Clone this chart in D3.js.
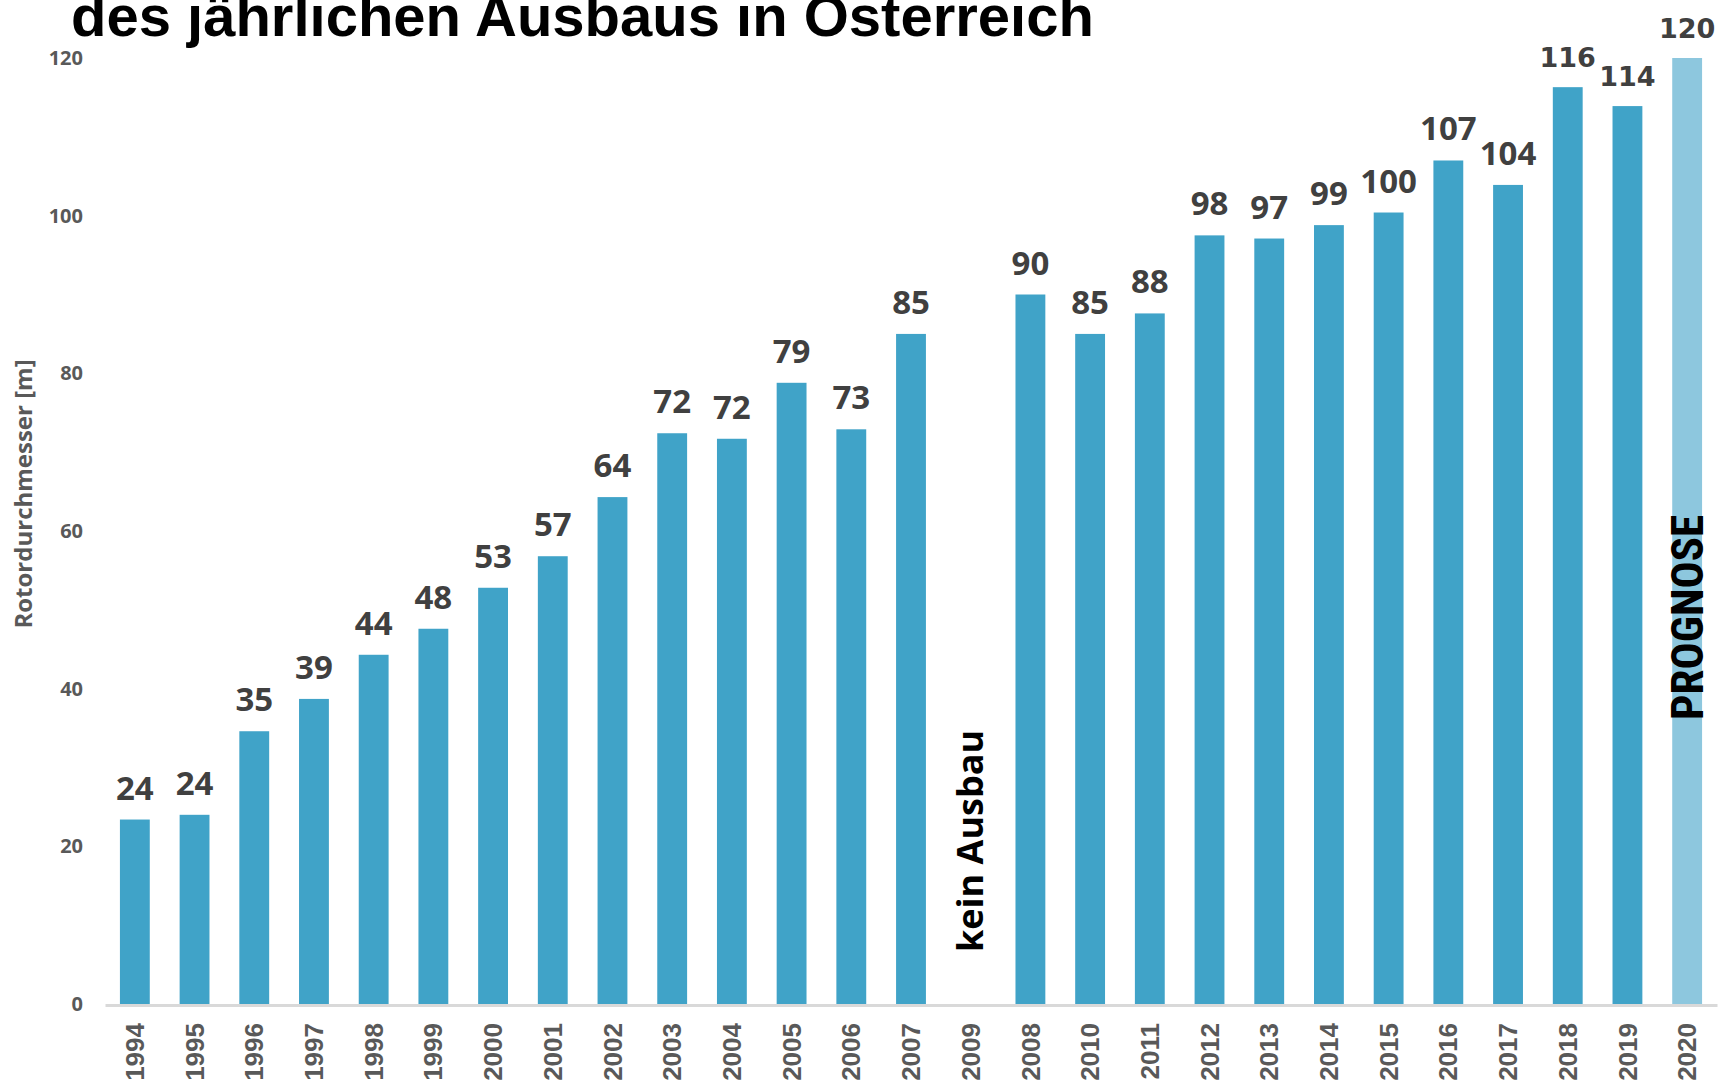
<!DOCTYPE html>
<html>
<head>
<meta charset="utf-8">
<script src="https://cdn.jsdelivr.net/npm/d3@7"></script>
<style>
body{margin:0;background:#fff;}
svg{display:block;}
</style>
</head>
<body>
<svg id="chart" width="1720" height="1083"></svg>
<script>
// Rotordurchmesser je Ausbaujahr
var years = ["1994","1995","1996","1997","1998","1999","2000","2001","2002","2003","2004","2005","2006","2007","2009","2008","2010","2011","2012","2013","2014","2015","2016","2017","2018","2019","2020"];
var values = [23.4,24,34.6,38.7,44.3,47.6,52.8,56.8,64.3,72.4,71.7,78.8,72.9,85,null,90,85,87.6,97.5,97.1,98.8,100.4,107,103.9,116.3,113.9,120];
var labels = ["24","24","35","39","44","48","53","57","64","72","72","79","73","85","","90","85","88","98","97","99","100","107","104","116","114","120"];
var yTicks = [0,20,40,60,80,100,120];
var forecastYear = "2020";
var noBuildYear = "2009";

var svg = d3.select("#chart");

var x = d3.scaleBand()
	.domain(years)
	.range([105,1717])
	.paddingInner(0.5)
	.paddingOuter(0.25);

var y = d3.scaleLinear()
	.domain([0,120])
	.range([1004,58]);

// titel (oben abgeschnitten wie im original)
svg.append("text")
	.attr("x",71)
	.attr("y",36)
	.style("font-family","'Liberation Sans', Arial, sans-serif")
	.style("font-weight","bold")
	.style("font-size","58px")
	.style("fill","#000")
	.text("des jährlichen Ausbaus in Österreich");

// y achse
var yAxis = svg.append("g")
	.attr("transform","translate(105,0)")
	.call(d3.axisLeft(y).tickValues(yTicks).tickSize(0).tickPadding(22));
yAxis.select(".domain").remove();
yAxis.selectAll("text")
	.style("font-family","'Open Sans', sans-serif")
	.style("font-weight","bold")
	.style("font-size","20px")
	.style("fill","#595959");

svg.append("text")
	.attr("transform","translate(24,494) rotate(-90)")
	.attr("text-anchor","middle")
	.attr("dy","0.35em")
	.style("font-family","'Open Sans', sans-serif")
	.style("font-weight","bold")
	.style("font-size","24px")
	.style("fill","#595959")
	.text("Rotordurchmesser [m]");

// balken
var data = years.map(function(d,i){ return {year: d, value: values[i], label: labels[i]}; });
var withBar = data.filter(function(d){ return d.value != null; });

svg.selectAll(".bar")
	.data(withBar)
	.enter().append("rect")
	.attr("class","bar")
	.attr("x",function(d){ return x(d.year); })
	.attr("width",x.bandwidth())
	.attr("y",function(d){ return y(d.value); })
	.attr("height",function(d){ return y(0) - y(d.value); })
	.attr("fill",function(d){ return d.year == forecastYear ? "#8DC7DE" : "#40A3C8"; });

// x achse
var xAxis = svg.append("g")
	.attr("transform","translate(0,1005)")
	.call(d3.axisBottom(x).tickSize(0));
xAxis.select(".domain")
	.attr("stroke","#D9D9D9")
	.attr("stroke-width",3);
xAxis.selectAll("text")
	.attr("transform","rotate(-90)")
	.attr("text-anchor","end")
	.attr("x",-18)
	.attr("y",0)
	.attr("dy","0.35em")
	.style("font-family","'Liberation Sans', Arial, sans-serif")
	.style("font-weight","bold")
	.style("font-size","26px")
	.style("fill","#595959");

// werte
var lastThree = years.slice(-3);
svg.selectAll(".val")
	.data(withBar)
	.enter().append("text")
	.attr("class","val")
	.attr("x",function(d){ return x(d.year) + x.bandwidth()/2; })
	.attr("y",function(d){ return y(d.value) - 20; })
	.attr("text-anchor","middle")
	.style("font-family",function(d){ return lastThree.indexOf(d.year) >= 0 ? "'DejaVu Sans', sans-serif" : "'Open Sans', sans-serif"; })
	.style("font-size",function(d){ return lastThree.indexOf(d.year) >= 0 ? "27px" : "33px"; })
	.style("font-weight","bold")
	.style("fill","#404040")
	.text(function(d){ return d.label; });

// hinweise
svg.append("text")
	.attr("transform","translate(" + (x(noBuildYear) + x.bandwidth()/2) + ",952) rotate(-90)")
	.attr("dy","0.35em")
	.style("font-family","'Open Sans', sans-serif")
	.style("font-weight","bold")
	.style("font-size","36px")
	.style("fill","#000")
	.text("kein Ausbau");

svg.append("text")
	.attr("transform","translate(" + (x(forecastYear) + x.bandwidth()/2) + ",720) rotate(-90)")
	.attr("dy","0.35em")
	.style("font-family","'Liberation Sans Narrow', 'Roboto Condensed', sans-serif")
	.style("font-weight","bold")
	.style("font-size","45px")
	.style("fill","#000")
	.text("PROGNOSE");
</script>
</body>
</html>
